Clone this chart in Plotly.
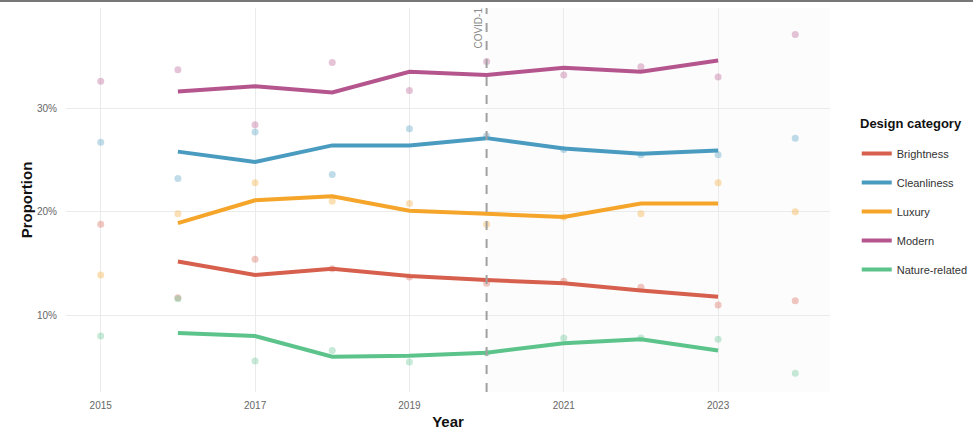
import plotly.graph_objects as go

# yearly observed proportions (points) and 3-year smoothed trend (lines)
years_pts = [2015, 2016, 2017, 2018, 2019, 2020, 2021, 2022, 2023, 2024]
years_line = [2016, 2017, 2018, 2019, 2020, 2021, 2022, 2023]

categories = ["Brightness", "Cleanliness", "Luxury", "Modern", "Nature-related"]

brightness_pts = [0.188, 0.117, 0.154, 0.145, 0.137, 0.131, 0.133, 0.127, 0.110, 0.114]
cleanliness_pts = [0.267, 0.232, 0.277, 0.236, 0.280, 0.273, 0.260, 0.255, 0.255, 0.271]
luxury_pts = [0.139, 0.198, 0.228, 0.210, 0.208, 0.188, 0.195, 0.198, 0.228, 0.200]
modern_pts = [0.326, 0.337, 0.284, 0.344, 0.317, 0.345, 0.332, 0.340, 0.330, 0.371]
nature_pts = [0.080, 0.116, 0.056, 0.066, 0.055, 0.064, 0.078, 0.078, 0.077, 0.044]

brightness_line = [0.152, 0.139, 0.145, 0.138, 0.134, 0.131, 0.124, 0.118]
cleanliness_line = [0.258, 0.248, 0.264, 0.264, 0.271, 0.261, 0.256, 0.259]
luxury_line = [0.189, 0.211, 0.215, 0.201, 0.198, 0.195, 0.208, 0.208]
modern_line = [0.316, 0.321, 0.315, 0.335, 0.332, 0.339, 0.335, 0.346]
nature_line = [0.083, 0.080, 0.060, 0.061, 0.064, 0.073, 0.077, 0.066]

colors = {
    "Brightness": "#D6604D",
    "Cleanliness": "#4A9BC0",
    "Luxury": "#F5A52A",
    "Modern": "#B5558E",
    "Nature-related": "#5CC48B",
}

pts = dict(zip(categories, [brightness_pts, cleanliness_pts, luxury_pts, modern_pts, nature_pts]))
lines = dict(zip(categories, [brightness_line, cleanliness_line, luxury_line, modern_line, nature_line]))

FONT = "Liberation Sans, Arial, sans-serif"

fig = go.Figure()

for cat in categories:
    fig.add_trace(go.Scatter(
        x=years_pts, y=pts[cat], mode="markers",
        marker=dict(color=colors[cat], size=7, opacity=0.35),
        showlegend=False, hoverinfo="skip",
    ))

for cat in categories:
    fig.add_trace(go.Scatter(
        x=years_line, y=lines[cat], mode="lines", name=cat,
        line=dict(color=colors[cat], width=4),
        legendgroup=cat,
    ))

fig.add_annotation(
    x=2020, y=0.3966, xref="x", yref="y", text="COVID-1",
    textangle=-90, showarrow=False, xanchor="right", yanchor="top",
    xshift=-1, yshift=2, font=dict(size=10, color="#8a8a8a", family=FONT),
)
# legend title as its own label (ggplot leaves a wider gap under it)
fig.add_annotation(
    x=1.037, y=0.70, xref="paper", yref="paper", text="<b>Design category</b>",
    showarrow=False, xanchor="left", yanchor="middle",
    font=dict(size=13, color="#111", family=FONT),
)

fig.update_layout(
    width=973, height=434,
    margin=dict(l=66, r=143, t=8, b=42, autoexpand=False),
    paper_bgcolor="white", plot_bgcolor="white",
    font=dict(family=FONT, color="#333"),
    showlegend=True,
    legend=dict(
        font=dict(size=11, color="#333"),
        x=1.035, y=0.659, xanchor="left", yanchor="top",
        tracegroupgap=10, itemwidth=30,
    ),
)

# post-COVID shading, marker line and the thin frame line at the very top
fig.add_vrect(x0=2020, x1=2024.45, fillcolor="rgba(0,0,0,0.012)", line_width=0, layer="below")
fig.add_vline(x=2020, line=dict(color="#a0a0a0", width=2, dash="dash"))
fig.add_shape(type="line", xref="paper", yref="paper", x0=-0.2, x1=1.3,
              y0=1.018, y1=1.018, line=dict(color="#777", width=2))

fig.update_xaxes(
    range=[2014.55, 2024.45], tickvals=[2015, 2017, 2019, 2021, 2023],
    showgrid=True, gridcolor="#ebebeb", gridwidth=1, zeroline=False,
    tickfont=dict(size=10, color="#666"), ticks="", automargin=False,
    ticklabelstandoff=6,
    title=dict(text="<b>Year</b>", font=dict(size=15, color="#111"), standoff=6),
)
fig.update_yaxes(
    range=[0.026, 0.3966], tickvals=[0.1, 0.2, 0.3], tickformat=".0%",
    showgrid=True, gridcolor="#ebebeb", gridwidth=1, zeroline=False,
    tickfont=dict(size=10, color="#666"), ticks="", automargin=False,
    ticklabelstandoff=8,
    title=dict(text="<b>Proportion</b>", font=dict(size=15, color="#111"), standoff=0),
)

# drop the browser's default 8px body margin so the figure sits at the page corner
fig.write_html("out.html", config={"displayModeBar": False},
               post_script="document.body.style.margin='0';")
